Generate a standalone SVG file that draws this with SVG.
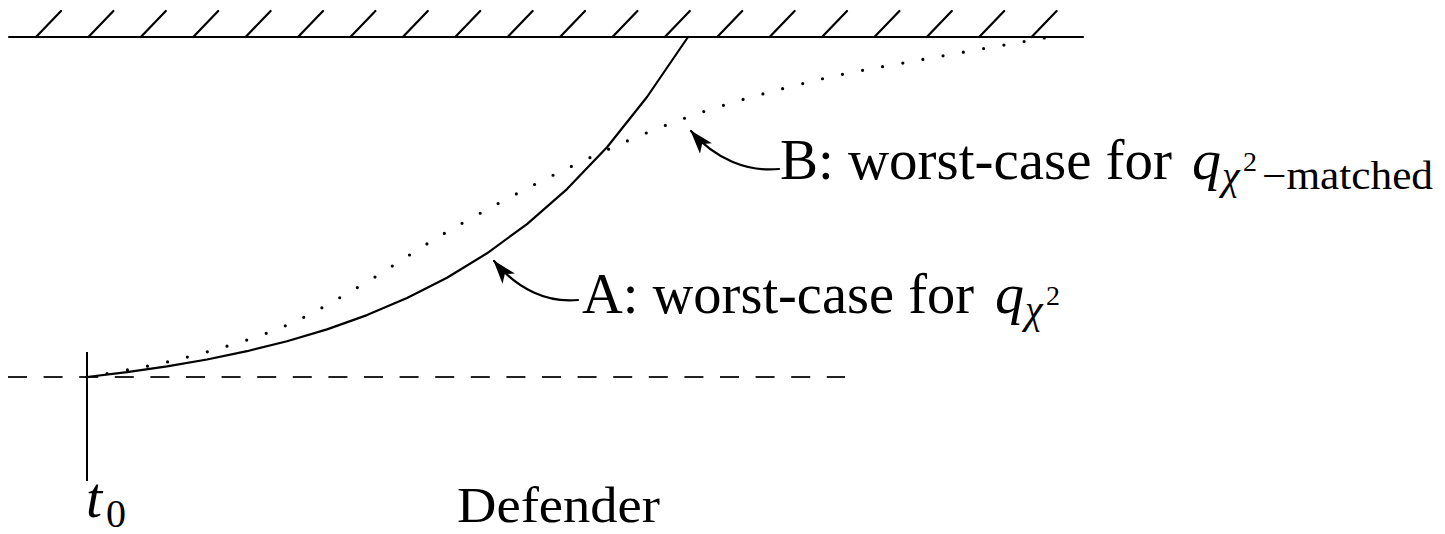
<svg xmlns="http://www.w3.org/2000/svg" width="1445" height="534" viewBox="0 0 1445 534">
<style>
.ln{fill:none;stroke:#000;stroke-width:2.2;stroke-linecap:round;stroke-linejoin:round}
.tx{font-family:"Liberation Serif","Times New Roman",serif;fill:#000}
.it{font-style:italic}
</style>
<defs>
<marker id="ah" viewBox="0 0 24 16" refX="23" refY="8" markerWidth="24" markerHeight="16" markerUnits="userSpaceOnUse" orient="auto">
<path d="M0,0 L24,8 L0,16 L6,8 Z" fill="#000"/>
</marker>
</defs>
<rect width="1445" height="534" fill="#fff"/>
<g id="wall">
<line class="ln" x1="9" y1="37" x2="1083" y2="37"/>
<path class="ln" d="M36,37 l25,-26 M88.4,37 l25,-26 M140.8,37 l25,-26 M193.2,37 l25,-26 M245.6,37 l25,-26 M298,37 l25,-26 M350.4,37 l25,-26 M402.8,37 l25,-26 M455.2,37 l25,-26 M507.6,37 l25,-26 M560,37 l25,-26 M612.4,37 l25,-26 M664.8,37 l25,-26 M717.2,37 l25,-26 M769.6,37 l25,-26 M822,37 l25,-26 M874.4,37 l25,-26 M926.8,37 l25,-26 M979.2,37 l25,-26 M1031.6,37 l25,-26"/>
</g>
<g id="axes">
<line x1="8" y1="377" x2="845" y2="377" stroke="#222" stroke-width="2" stroke-dasharray="19 16.6"/>
<line x1="87" y1="352" x2="87" y2="481" stroke="#000" stroke-width="2"/>
</g>
<g id="curveA">
<polyline class="ln" points="87,377 127,372.2 167,366.4 207,359.5 247,351.2 287,341.2 327,329.4 367,315.1 407,298.1 447,277.7 487,253.3 527,224.1 567,189.1 607,147.2 647,97 688,37"/>
</g>
<g id="curveB">
<path fill="none" stroke="#000" stroke-width="3.2" stroke-linecap="round" stroke-dasharray="0 20.5" d="M87,377 C102.5,374 147.8,367.2 180,359 C212.2,350.8 250,340.2 280,328 C310,315.8 331.3,302.5 360,286 C388.7,269.5 417.3,248.7 452,229 C486.7,209.3 528.7,186.7 568,168 C607.3,149.3 647.2,131.5 688,117 C728.8,102.5 774.3,90.5 813,81 C851.7,71.5 880.5,67.3 920,60 C959.5,52.7 1028.3,40.8 1050,37"/>
</g>
<g id="connectors">
<path class="ln" d="M779,169 C748,172 716,160 691,131" marker-end="url(#ah)"/>
<path class="ln" d="M578,300 C548,303 518,290 494,261" marker-end="url(#ah)"/>
</g>
<g id="labelB">
<text class="tx" x="780" y="179" font-size="58" textLength="392" lengthAdjust="spacingAndGlyphs">B: worst-case for</text>
<text class="tx it" x="1192" y="179" font-size="58">q</text>
<text class="tx it" x="1222" y="189" font-size="40">χ</text>
<text class="tx" x="1243" y="171" font-size="28">2</text>
<text class="tx" x="1262" y="189" font-size="40" textLength="171" lengthAdjust="spacingAndGlyphs">−matched</text>
</g>
<g id="labelA">
<text class="tx" x="582" y="313" font-size="58" textLength="392" lengthAdjust="spacingAndGlyphs">A: worst-case for</text>
<text class="tx it" x="995" y="313" font-size="58">q</text>
<text class="tx it" x="1025" y="323" font-size="40">χ</text>
<text class="tx" x="1046" y="305" font-size="28">2</text>
</g>
<g id="t0">
<text class="tx it" x="86" y="517" font-size="58">t</text>
<text class="tx" x="106" y="527" font-size="40">0</text>
</g>
<g id="defender">
<text class="tx" x="457" y="522" font-size="50" textLength="203" lengthAdjust="spacingAndGlyphs">Defender</text>
</g>
</svg>
